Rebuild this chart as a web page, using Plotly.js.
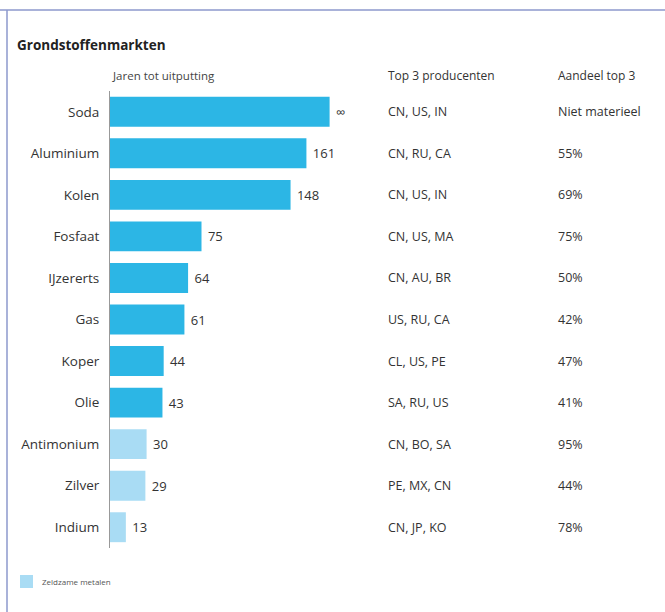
<!DOCTYPE html>
<html>
<head>
<meta charset="utf-8">
<script src="https://cdn.plot.ly/plotly-3.0.1.min.js"></script>
<style>html,body{margin:0;padding:0;background:#fff;}#chart{width:665px;height:612px;}</style>
</head>
<body>
<div id="chart"></div>
<script>
// Data
var grondstoffen = ["Soda","Aluminium","Kolen","Fosfaat","IJzererts","Gas","Koper","Olie","Antimonium","Zilver","Indium"];
var jarenTotUitputting = [180,161,148,75,64,61,44,43,30,29,13];
var jarenLabels = ["\u221e","161","148","75","64","61","44","43","30","29","13"];
var zeldzaam = [false,false,false,false,false,false,false,false,true,true,true];
var top3Producenten = ["CN, US, IN","CN, RU, CA","CN, US, IN","CN, US, MA","CN, AU, BR","US, RU, CA","CL, US, PE","SA, RU, US","CN, BO, SA","PE, MX, CN","CN, JP, KO"];
var aandeelTop3 = ["Niet materieel","55%","69%","75%","50%","42%","47%","41%","95%","44%","78%"];
var legendLabel = "Zeldzame metalen";

var W = 665, H = 612, ML = 110, MR = 15, MT = 91, MB = 64;
var PW = W - ML - MR, PH = H - MT - MB;
function px(x){ return (x - ML) / PW; }
function py(y){ return (H - MB - y) / PH; }

var FONT = "Open Sans, Liberation Sans, sans-serif";
var dark = "#2cb6e5", light = "#a9dcf4";

function pick(arr, rare){ return arr.filter(function(_, i){ return zeldzaam[i] === rare; }); }

var traces = [
  {
    type: "bar", orientation: "h",
    y: pick(grondstoffen, false), x: pick(jarenTotUitputting, false),
    text: pick(jarenLabels, false), texttemplate: "\u00a0%{text}", textposition: "outside",
    textfont: {family: FONT, size: 13, color: "#333"},
    marker: {color: dark}, showlegend: false, cliponaxis: false, hoverinfo: "skip"
  },
  {
    type: "bar", orientation: "h", name: legendLabel,
    y: pick(grondstoffen, true), x: pick(jarenTotUitputting, true),
    text: pick(jarenLabels, true), texttemplate: "\u00a0%{text}", textposition: "outside",
    textfont: {family: FONT, size: 13, color: "#333"},
    marker: {color: light}, showlegend: false, cliponaxis: false, hoverinfo: "skip"
  }
];

var annotations = [];
grondstoffen.forEach(function(g, i){
  annotations.push({xref: "paper", yref: "y", x: px(386), y: g, text: top3Producenten[i], showarrow: false, xanchor: "left", yanchor: "middle", font: {family: FONT, size: 12.5, color: "#333"}});
  annotations.push({xref: "paper", yref: "y", x: px(556), y: g, text: aandeelTop3[i], showarrow: false, xanchor: "left", yanchor: "middle", font: {family: FONT, size: 12.5, color: "#333"}});
});
annotations.push({xref: "paper", yref: "paper", x: px(110), y: py(75), text: "Jaren tot uitputting", showarrow: false, xanchor: "left", yanchor: "middle", font: {family: FONT, size: 11.5, color: "#444"}});
annotations.push({xref: "paper", yref: "paper", x: px(386), y: py(75), text: "Top 3 producenten", showarrow: false, xanchor: "left", yanchor: "middle", font: {family: FONT, size: 12, color: "#333"}});
annotations.push({xref: "paper", yref: "paper", x: px(556), y: py(75), text: "Aandeel top 3", showarrow: false, xanchor: "left", yanchor: "middle", font: {family: FONT, size: 12, color: "#333"}});
// legend (drawn manually)
annotations.push({xref: "paper", yref: "paper", x: px(40), y: py(581.5), text: legendLabel, showarrow: false, xanchor: "left", yanchor: "middle", font: {family: FONT, size: 8, color: "#555"}});

var layout = {
  width: W, height: H,
  margin: {l: ML, r: MR, t: MT, b: MB, pad: 0},
  paper_bgcolor: "#fff", plot_bgcolor: "#fff",
  title: {text: "<b>Grondstoffenmarkten</b>", xref: "container", yref: "container", x: 17 / W, y: 1 - 45 / H, xanchor: "left", yanchor: "middle", font: {family: FONT, size: 13.5, color: "#222"}},
  barmode: "overlay", bargap: 0.28,
  xaxis: {range: [0, PW / 1.22], visible: false, fixedrange: true},
  yaxis: {type: "category", categoryorder: "array", categoryarray: grondstoffen, autorange: "reversed",
    showline: true, linecolor: "#999", linewidth: 1, showgrid: false, zeroline: false, ticks: "", ticklabelstandoff: 7,
    tickfont: {family: FONT, size: 13.5, color: "#333"}, fixedrange: true, automargin: false},
  showlegend: false,
  annotations: annotations,
  shapes: [
    {type: "line", xref: "paper", yref: "paper", x0: px(0), x1: px(W), y0: py(10), y1: py(10), line: {color: "#8c98cc", width: 1.5}},
    {type: "line", xref: "paper", yref: "paper", x0: px(7), x1: px(7), y0: py(10), y1: py(H), line: {color: "#8c98cc", width: 1.5}},
    {type: "rect", xref: "paper", yref: "paper", x0: px(20), x1: px(33), y0: py(588), y1: py(575), fillcolor: light, line: {width: 0}}
  ]
};

Plotly.newPlot("chart", traces, layout, {displayModeBar: false, staticPlot: true});
</script>
</body>
</html>
